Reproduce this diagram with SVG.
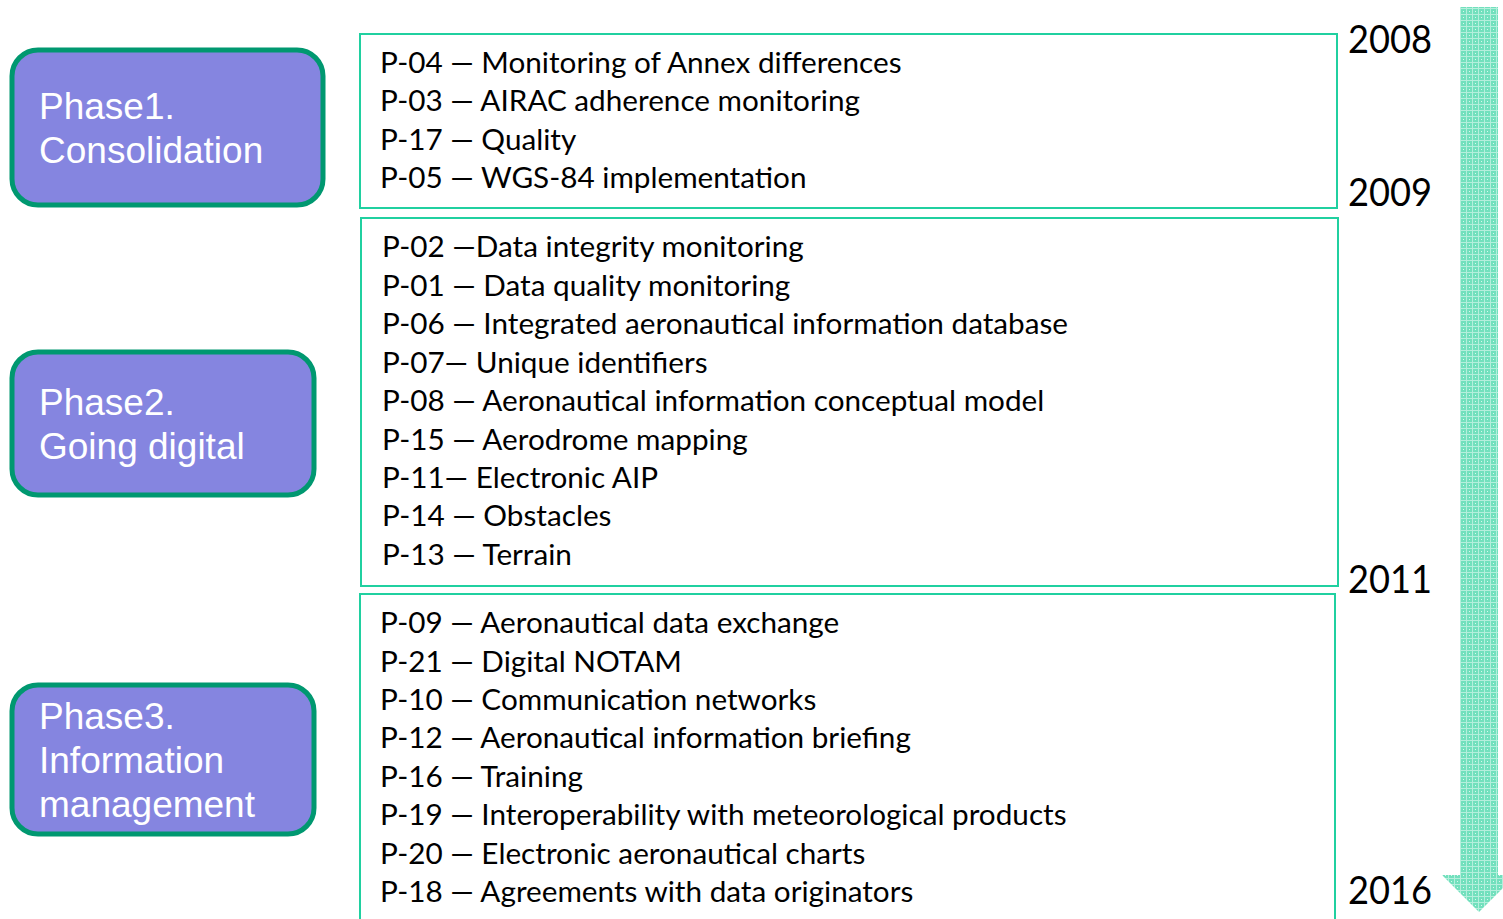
<svg xmlns="http://www.w3.org/2000/svg" width="1503" height="919" viewBox="0 0 1503 919">
  <defs>
    <!-- dotted-grid fill for the timeline arrow -->
    <pattern id="dots" width="6" height="6" patternUnits="userSpaceOnUse">
      <rect width="6" height="6" fill="#72e0bd"/>
      <rect x="0" y="2" width="6" height="1" fill="#b4efdc"/>
      <rect x="2" y="0" width="1" height="6" fill="#b4efdc"/>
      <rect x="5" y="5" width="1" height="1" fill="#d8f8ee"/>
    </pattern>
    <style>
      .phase { fill: #8585e0; stroke: #009870; stroke-width: 5; }
      .phase-text { font-family: "Liberation Sans", Arial, sans-serif; font-size: 37px; fill: #ffffff; }
      .group { fill: #ffffff; stroke: #20d0a0; stroke-width: 2; }
      .item { font-family: Lato, "Open Sans", sans-serif; font-size: 29.7px; fill: #000000; }
      .year { font-family: Lato, "Open Sans", sans-serif; font-size: 39px; fill: #000000; }
    </style>
  </defs>

  <rect width="1503" height="919" fill="#ffffff"/>

  <!-- timeline arrow -->
  <g id="timeline">
    <path d="M1460 7 H1498 V875 H1516 L1479 912 L1442 875 H1460 Z" fill="url(#dots)"/>
  </g>

  <!-- phase labels -->
  <g id="phase1">
    <rect class="phase" x="12" y="50" width="311" height="155" rx="26"/>
    <text class="phase-text" x="39" y="119">Phase1.</text>
    <text class="phase-text" x="39" y="163">Consolidation</text>
  </g>
  <g id="phase2">
    <rect class="phase" x="12" y="352" width="302" height="143" rx="26"/>
    <text class="phase-text" x="39" y="415">Phase2.</text>
    <text class="phase-text" x="39" y="459">Going digital</text>
  </g>
  <g id="phase3">
    <rect class="phase" x="12" y="685" width="302" height="149" rx="26"/>
    <text class="phase-text" x="39" y="729">Phase3.</text>
    <text class="phase-text" x="39" y="773">Information</text>
    <text class="phase-text" x="39" y="817">management</text>
  </g>

  <!-- project groups -->
  <g id="group1">
    <rect class="group" x="360" y="34" width="977" height="174"/>
    <text class="item" x="380" y="73">P-04 — Monitoring of Annex differences</text>
    <text class="item" x="380" y="111">P-03 — AIRAC adherence monitoring</text>
    <text class="item" x="380" y="150">P-17 — Quality</text>
    <text class="item" x="380" y="188">P-05 — WGS-84 implementation</text>
  </g>
  <g id="group2">
    <rect class="group" x="361" y="218" width="977" height="368"/>
    <text class="item" x="382" y="257">P-02 —Data integrity monitoring</text>
    <text class="item" x="382" y="296">P-01 — Data quality monitoring</text>
    <text class="item" x="382" y="334">P-06 — Integrated aeronautical information database</text>
    <text class="item" x="382" y="373">P-07— Unique identifiers</text>
    <text class="item" x="382" y="411">P-08 — Aeronautical information conceptual model</text>
    <text class="item" x="382" y="450">P-15 — Aerodrome mapping</text>
    <text class="item" x="382" y="488">P-11— Electronic AIP</text>
    <text class="item" x="382" y="526">P-14 — Obstacles</text>
    <text class="item" x="382" y="565">P-13 — Terrain</text>
  </g>
  <g id="group3">
    <rect class="group" x="360" y="594" width="975" height="340"/>
    <text class="item" x="380" y="633">P-09 — Aeronautical data exchange</text>
    <text class="item" x="380" y="672">P-21 — Digital NOTAM</text>
    <text class="item" x="380" y="710">P-10 — Communication networks</text>
    <text class="item" x="380" y="748">P-12 — Aeronautical information briefing</text>
    <text class="item" x="380" y="787">P-16 — Training</text>
    <text class="item" x="380" y="825">P-19 — Interoperability with meteorological products</text>
    <text class="item" x="380" y="864">P-20 — Electronic aeronautical charts</text>
    <text class="item" x="380" y="902">P-18 — Agreements with data originators</text>
  </g>

  <!-- year marks -->
  <g id="years">
    <text class="year" x="1348" y="53" textLength="84" lengthAdjust="spacingAndGlyphs">2008</text>
    <text class="year" x="1348" y="206" textLength="84" lengthAdjust="spacingAndGlyphs">2009</text>
    <text class="year" x="1348" y="593" textLength="84" lengthAdjust="spacingAndGlyphs">2011</text>
    <text class="year" x="1348" y="904" textLength="84" lengthAdjust="spacingAndGlyphs">2016</text>
  </g>
</svg>
